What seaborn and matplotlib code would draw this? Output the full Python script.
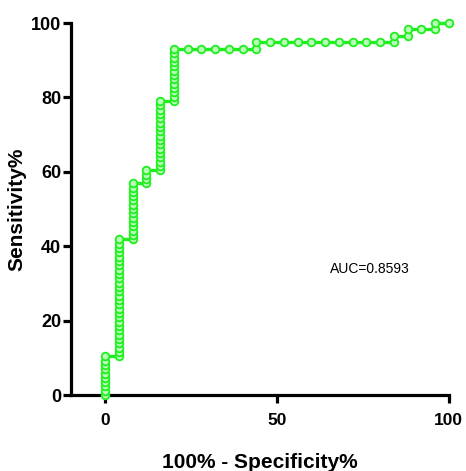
import numpy as np
import pandas as pd
import matplotlib
matplotlib.use("Agg")
import matplotlib.pyplot as plt
import seaborn as sns

# ROC points, one list of sensitivity values per 100%-specificity step
fpr_steps = [0, 4, 8, 12, 16, 20, 24, 28, 32, 36, 40, 44, 48, 52, 56, 60,
             64, 68, 72, 76, 80, 84, 88, 92, 96, 100]
sens_steps = [
    [0, 1.16, 2.33, 3.49, 4.65, 5.81, 6.98, 8.14, 9.30, 10.47],
    [10.47, 11.63, 12.79, 13.95, 15.12, 16.28, 17.44, 18.60, 19.77, 20.93,
     22.09, 23.26, 24.42, 25.58, 26.74, 27.91, 29.07, 30.23, 31.40, 32.56,
     33.72, 34.88, 36.05, 37.21, 38.37, 39.53, 40.70, 41.86],
    [41.86, 43.02, 44.19, 45.35, 46.51, 47.67, 48.84, 50.00, 51.16, 52.33,
     53.49, 54.65, 55.81, 56.98],
    [56.98, 58.14, 59.30, 60.47],
    [60.47, 61.63, 62.79, 63.95, 65.12, 66.28, 67.44, 68.60, 69.77, 70.93,
     72.09, 73.26, 74.42, 75.58, 76.74, 77.91, 79.07],
    [79.07, 80.23, 81.40, 82.56, 83.72, 84.88, 86.05, 87.21, 88.37, 89.53,
     90.70, 91.86, 93.02],
    [93.02], [93.02], [93.02], [93.02], [93.02],
    [93.02, 94.8],
    [94.8], [94.8], [94.8], [94.8], [94.8], [94.8], [94.8], [94.8], [94.8],
    [94.8, 96.5],
    [96.5, 98.3],
    [98.3],
    [98.3, 100],
    [100],
]
auc_text = "AUC=0.8593"

rows = []
for fx, ys in zip(fpr_steps, sens_steps):
    for yv in ys:
        rows.append((fx, yv))
df = pd.DataFrame(rows, columns=["fpr", "sens"])

sns.set_style("ticks")
plt.rcParams['font.family'] = ['Liberation Sans', 'DejaVu Sans']
plt.rcParams['text.color'] = 'black'
plt.rcParams['xtick.color'] = 'black'
plt.rcParams['ytick.color'] = 'black'
plt.rcParams['axes.labelcolor'] = 'black'

fig = plt.figure(figsize=(4.66, 4.71), dpi=100)
ax = fig.add_axes([0.152, 0.161, 0.811, 0.790])

green = '#1fee1f'
sns.lineplot(data=df, x="fpr", y="sens", sort=False, estimator=None,
             color=green, linewidth=2.4, marker='o', markersize=5.5,
             markerfacecolor='#b8ffb8', markeredgecolor=green,
             markeredgewidth=1.3, clip_on=False, zorder=5, ax=ax)

ax.set_xlim(-10, 100)
ax.set_ylim(0, 100)
ax.set_xticks([0, 50, 100])
ax.set_yticks([0, 20, 40, 60, 80, 100])
sns.despine(ax=ax)
for s in ['left', 'bottom']:
    ax.spines[s].set_linewidth(2.3)
    ax.spines[s].set_color('black')
ax.tick_params(axis='both', width=2.3, length=6, color='black',
               labelcolor='black', labelsize=13)
ax.tick_params(axis='x', labelsize=12.5, pad=7)
ax.tick_params(axis='y', pad=1)
for lab in ax.get_xticklabels() + ax.get_yticklabels():
    lab.set_fontweight('bold')

ax.set_xlabel("100% - Specificity%", fontsize=15, fontweight='bold',
              labelpad=18)
ax.set_ylabel("Sensitivity%", fontsize=15, fontweight='bold', labelpad=3)
ax.text(77, 34, auc_text, fontsize=10, ha='center', va='center')

fig.savefig("out.png", dpi=100)
